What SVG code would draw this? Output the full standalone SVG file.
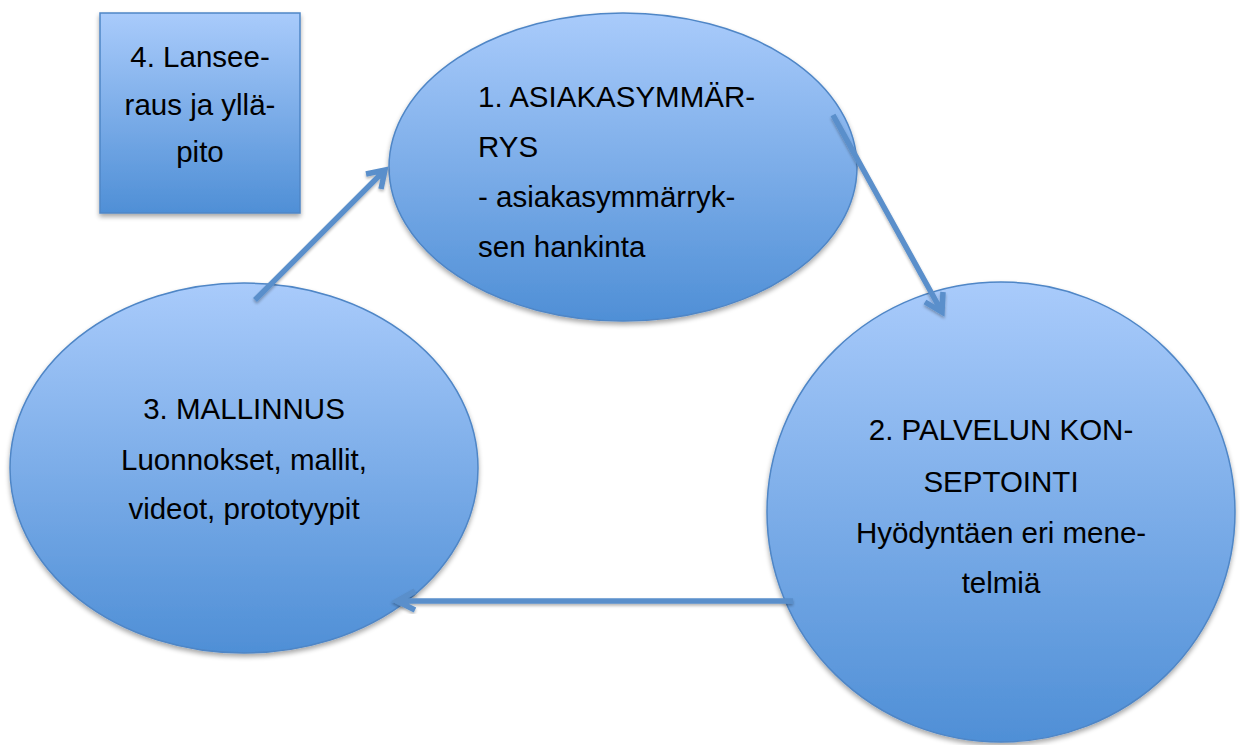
<svg xmlns="http://www.w3.org/2000/svg" width="1240" height="745" viewBox="0 0 1240 745">
<defs>
<linearGradient id="g" x1="0" y1="0" x2="0" y2="1">
<stop offset="0" stop-color="#a9cbfb"/>
<stop offset="1" stop-color="#4f8fd6"/>
</linearGradient>
<filter id="sh" x="-10%" y="-10%" width="120%" height="125%">
<feGaussianBlur in="SourceAlpha" stdDeviation="2.5"/>
<feOffset dx="0" dy="3" result="b"/>
<feComponentTransfer><feFuncA type="linear" slope="0.35"/></feComponentTransfer>
<feMerge><feMergeNode/><feMergeNode in="SourceGraphic"/></feMerge>
</filter>
<filter id="ash" x="-20%" y="-20%" width="140%" height="140%">
<feGaussianBlur in="SourceAlpha" stdDeviation="1.5"/>
<feOffset dx="0" dy="2"/>
<feComponentTransfer><feFuncA type="linear" slope="0.3"/></feComponentTransfer>
<feMerge><feMergeNode/><feMergeNode in="SourceGraphic"/></feMerge>
</filter>
</defs>
<style>
.shape{fill:url(#g);stroke:#4f86c6;stroke-width:1.5;filter:url(#sh)}
.t{font-family:"Liberation Sans",Arial,sans-serif;font-size:29.5px;fill:#000}
.c{text-anchor:middle}
.arr{fill:none;stroke:#5a8fcb;stroke-width:5.5;stroke-linecap:butt;stroke-linejoin:miter;filter:url(#ash)}
</style>
<rect width="1240" height="745" fill="#ffffff"/>
<g id="node4">
<rect class="shape" x="100" y="13" width="200" height="200"/>
<text class="t c" x="200" y="67">4. Lansee-</text>
<text class="t c" x="200" y="115">raus ja yllä-</text>
<text class="t c" x="200" y="162">pito</text>
</g>
<g id="node1">
<ellipse class="shape" cx="623" cy="167" rx="234" ry="154"/>
<text class="t" x="478" y="107">1. ASIAKASYMMÄR-</text>
<text class="t" x="478" y="157">RYS</text>
<text class="t" x="478" y="207">- asiakasymmärryk-</text>
<text class="t" x="478" y="257">sen hankinta</text>
</g>
<g id="node2">
<ellipse class="shape" cx="1001" cy="512" rx="234" ry="230"/>
<text class="t c" x="1001" y="440">2. PALVELUN KON-</text>
<text class="t c" x="1001" y="492">SEPTOINTI</text>
<text class="t c" x="1001" y="543">Hyödyntäen eri mene-</text>
<text class="t c" x="1001" y="593">telmiä</text>
</g>
<g id="node3">
<ellipse class="shape" cx="244" cy="468" rx="234" ry="185"/>
<text class="t c" x="244" y="419">3. MALLINNUS</text>
<text class="t c" x="244" y="470">Luonnokset, mallit,</text>
<text class="t c" x="244" y="519">videot, prototyypit</text>
</g>
<g id="connectors">
<path class="arr" d="M255,300 L385,170 M366,174 L385,170 L381,189"/>
<path class="arr" d="M833,115 L942,312 M925,302 L942,312 L943,292"/>
<path class="arr" d="M793,601 L397,601 M415,591 L397,601 L415,610"/>
</g>
</svg>
